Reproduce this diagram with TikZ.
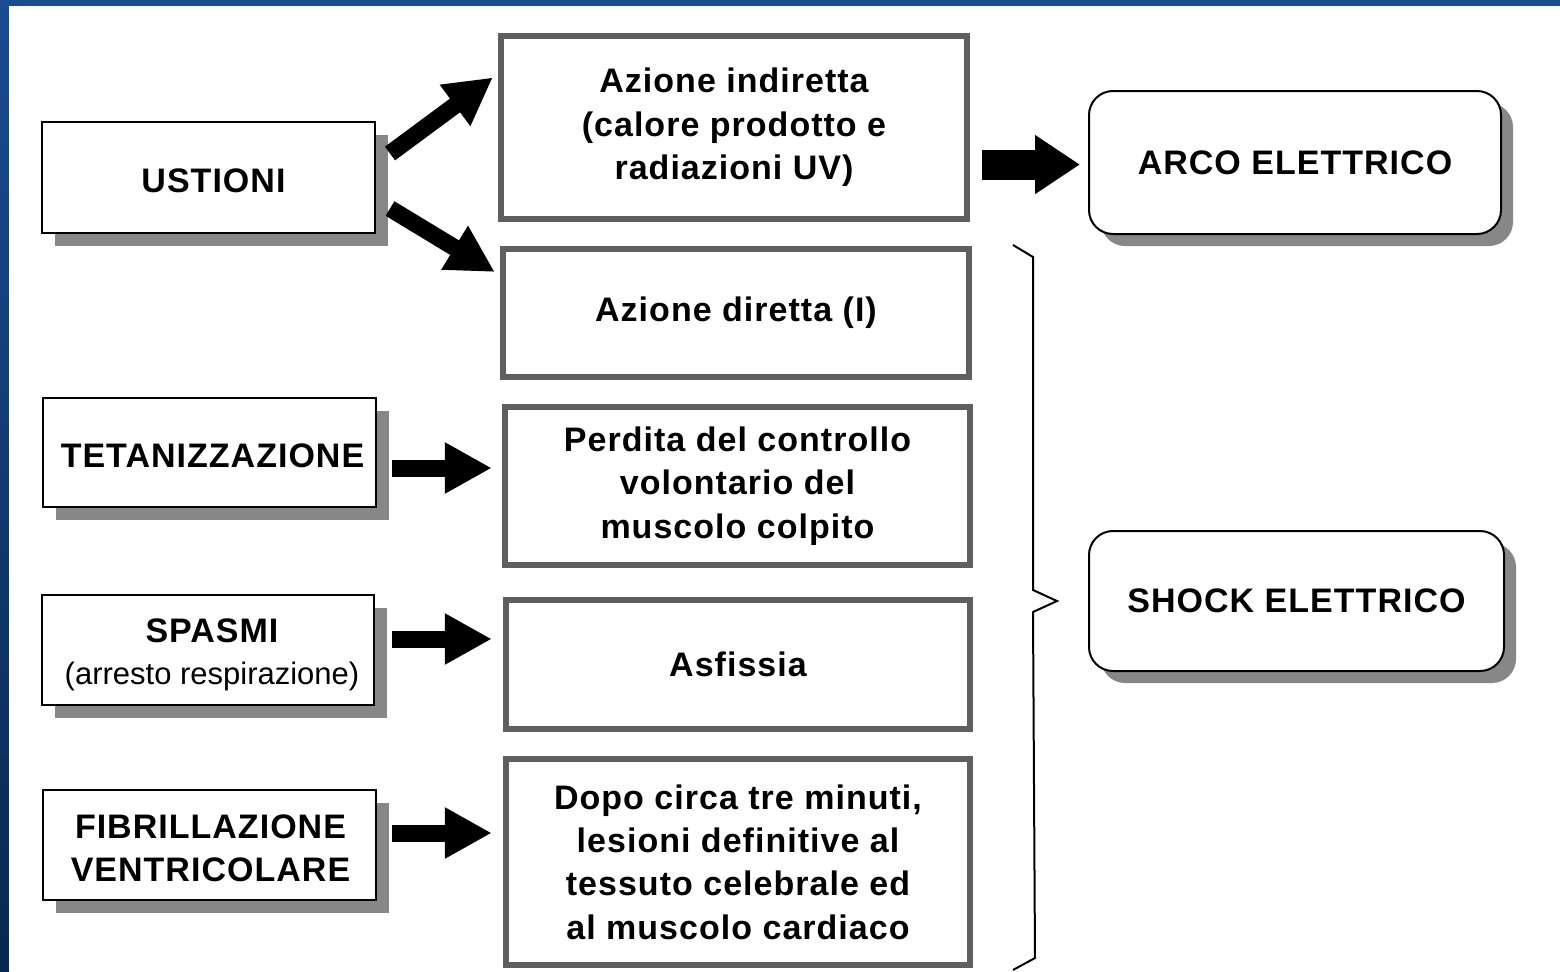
\documentclass[tikz,border=0pt]{standalone}
\usepackage{fontspec}
\setmainfont{Liberation Sans}
\newfontfamily\mainlbl[LetterSpace=3]{Liberation Sans}
\usetikzlibrary{arrows.meta,shadows,calc}
\definecolor{slideblue}{RGB}{26,76,146}
\definecolor{slidedark}{RGB}{8,40,80}
\definecolor{framegray}{RGB}{95,95,95}
\definecolor{shadegray}{RGB}{135,135,135}
\newcommand\sublbl{\rmfamily\mdseries\fontsize{15.5}{18}\selectfont}
\begin{document}
\begin{tikzpicture}[x=0.5pt,y=-0.5pt,
  lbl/.style={font=\mainlbl\bfseries\fontsize{17}{21.7}\selectfont, align=center, inner sep=0pt},
  leftbox/.style={lbl, draw=black, line width=1pt, fill=white,
    drop shadow={shadow xshift=6.5pt, shadow yshift=-6.5pt, opacity=1, fill=shadegray}},
  midbox/.style={lbl, draw=framegray, line width=3.2pt, fill=white},
  roundbox/.style={lbl, draw=black, line width=1pt, fill=white, rounded corners=12pt,
    drop shadow={shadow xshift=6pt, shadow yshift=-6pt, opacity=1, fill=shadegray}},
  blockarrow/.style={black, line width=8.5pt, -{Triangle[length=23.5pt, width=24pt]}},
  bigarrow/.style={black, line width=15pt, -{Triangle[length=22.5pt, width=28pt]}},
]
\useasboundingbox (0,0) rectangle (1560,971);
% slide background
\fill[slideblue] (0,0) rectangle (1560,971);
\shade[top color=slideblue, bottom color=slidedark] (0,0) rectangle (9,971);
\fill[white] (9,6) rectangle (1560,971);

% left boxes
\node[leftbox, minimum width=166.5pt, minimum height=55.5pt] (ust) at (208.5,177.5) {};
\node[lbl] at ($(ust)+(5,3)$) {USTIONI};
\node[leftbox, minimum width=166.5pt, minimum height=54.5pt] (tet) at (209.5,452.5) {};
\node[lbl] at ($(tet)+(3,3)$) {TETANIZZAZIONE};
\node[leftbox, minimum width=166pt, minimum height=55pt] (spa) at (208,650) {};
\node[lbl] at ($(spa)+(4,5)$) {SPASMI\\[-1pt]{\sublbl(arresto respirazione)}};
\node[leftbox, minimum width=166.5pt, minimum height=55pt] (fib) at (209.5,845) {};
\node[lbl] at ($(fib)+(1,3)$) {FIBRILLAZIONE\\VENTRICOLARE};

% middle boxes
\node[midbox, minimum width=233pt, minimum height=91.5pt] (ind) at (734,127.5) {Azione indiretta\\(calore prodotto e\\radiazioni UV)};
\node[midbox, minimum width=233pt, minimum height=64pt] (dir) at (736,313) {Azione diretta (I)};
\node[midbox, minimum width=232.5pt, minimum height=79pt] (per) at (737.5,486) {Perdita del controllo\\volontario del\\muscolo colpito};
\node[midbox, minimum width=232pt, minimum height=64.5pt] (asf) at (738,664.5) {Asfissia};
\node[midbox, minimum width=232pt, minimum height=103pt] (dop) at (738,862) {Dopo circa tre minuti,\\lesioni definitive al\\tessuto celebrale ed\\al muscolo cardiaco};

% right rounded boxes
\node[roundbox, minimum width=206pt, minimum height=71.5pt] (arco) at (1295,162.5) {ARCO ELETTRICO};
\node[roundbox, minimum width=207.5pt, minimum height=70pt] (shock) at (1296.5,601) {SHOCK ELETTRICO};

% arrows
\draw[blockarrow] ($(ust.east)+(14,-24)$) -- ($(ind.west)+(-5,-50)$);
\draw[blockarrow] ($(ust.east)+(14,31)$) -- ($(dir.west)+(-5,-41)$);
\draw[blockarrow] ($(tet.east)+(15,15.5)$) -- ($(tet.east -| per.west)+(-10,15.5)$);
\draw[blockarrow] ($(spa.east)+(17,-11)$) -- ($(spa.east -| asf.west)+(-11,-11)$);
\draw[blockarrow] ($(fib.east)+(15,-12)$) -- ($(fib.east -| dop.west)+(-11,-12)$);
\draw[bigarrow] ($(ind.east |- arco.west)+(12,2)$) -- ($(arco.west)+(-8,2)$);

% brace
\draw[black, line width=1pt, line join=miter]
  (1013,245) -- (1033,257) -- (1033,590) -- (1057,601) -- (1033,612) -- (1035,958) -- (1013,970);
\end{tikzpicture}
\end{document}
